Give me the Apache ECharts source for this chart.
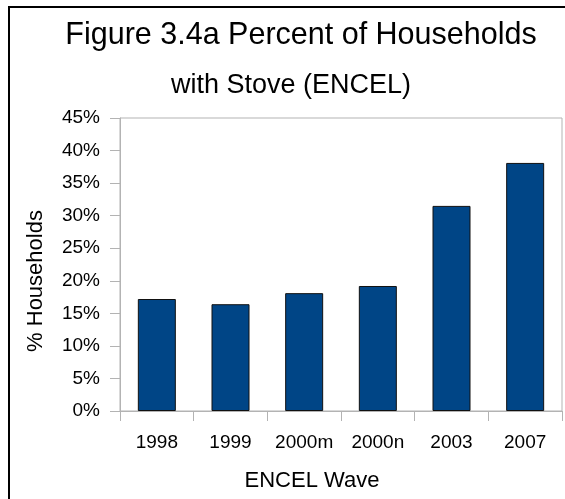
<!DOCTYPE html>
<html>
<head>
<meta charset="utf-8">
<script src="https://cdn.jsdelivr.net/npm/echarts@6/dist/echarts.min.js"></script>
<style>
  html, body { margin: 0; padding: 0; background: #fff; }
  #chart { width: 565px; height: 499px; }
</style>
</head>
<body>
<div id="chart"></div>
<script>
// ENCEL survey waves and share of households owning a stove (%)
const waves = ['1998', '1999', '2000m', '2000n', '2003', '2007'];
const stoveShare = [17.2, 16.4, 18.1, 19.2, 31.5, 38.1];

const titleLine1 = 'Figure 3.4a Percent of Households';
const titleLine2 = 'with Stove (ENCEL)';
const xName = 'ENCEL Wave';
const yName = '% Households';

const FONT = '"Liberation Sans", Arial, sans-serif';
const AXIS_GREY = '#b3b3b3';

const chart = echarts.init(document.getElementById('chart'), null, { renderer: 'canvas' });

chart.setOption({
  animation: false,
  backgroundColor: '#ffffff',
  grid: {
    left: 120, right: 3, top: 118, bottom: 88,
    show: true, borderColor: AXIS_GREY, borderWidth: 1,
    backgroundColor: 'transparent'
  },
  xAxis: {
    type: 'category',
    data: waves,
    axisLine: { lineStyle: { color: AXIS_GREY, width: 1 } },
    axisTick: { show: true, length: 10, interval: 0, alignWithLabel: false, lineStyle: { color: AXIS_GREY } },
    axisLabel: { color: '#000', fontFamily: FONT, fontSize: 19, margin: 22, interval: 0 },
    splitLine: { show: false }
  },
  yAxis: {
    type: 'value',
    min: 0, max: 45, interval: 5,
    axisLine: { show: true, lineStyle: { color: AXIS_GREY, width: 1 } },
    axisTick: { show: true, length: 10, lineStyle: { color: AXIS_GREY } },
    axisLabel: { color: '#000', fontFamily: FONT, fontSize: 19, margin: 20, formatter: '{value}%' },
    splitLine: { show: false }
  },
  series: [{
    type: 'bar',
    data: stoveShare,
    barWidth: 38,
    itemStyle: { color: '#004586', borderColor: '#111', borderWidth: 1 }
  }],
  graphic: [
    {
      type: 'rect',
      silent: true,
      shape: { x: 9, y: 7, width: 640, height: 560 },
      style: { fill: 'none', stroke: '#000', lineWidth: 2 }
    },
    {
      type: 'text',
      style: {
        x: 301, y: 35.5, text: titleLine1,
        font: '30.5px ' + FONT, fill: '#000',
        textAlign: 'center', textVerticalAlign: 'middle'
      }
    },
    {
      type: 'text',
      style: {
        x: 291, y: 86, text: titleLine2,
        font: '27px ' + FONT, fill: '#000',
        textAlign: 'center', textVerticalAlign: 'middle'
      }
    },
    {
      type: 'text',
      x: 36, y: 281, rotation: Math.PI / 2,
      style: {
        x: 0, y: 0, text: yName,
        font: '22px ' + FONT, fill: '#000',
        textAlign: 'center', textVerticalAlign: 'middle'
      }
    },
    {
      type: 'text',
      style: {
        x: 312, y: 481, text: xName,
        font: '22px ' + FONT, fill: '#000',
        textAlign: 'center', textVerticalAlign: 'middle'
      }
    }
  ]
});
</script>
</body>
</html>
